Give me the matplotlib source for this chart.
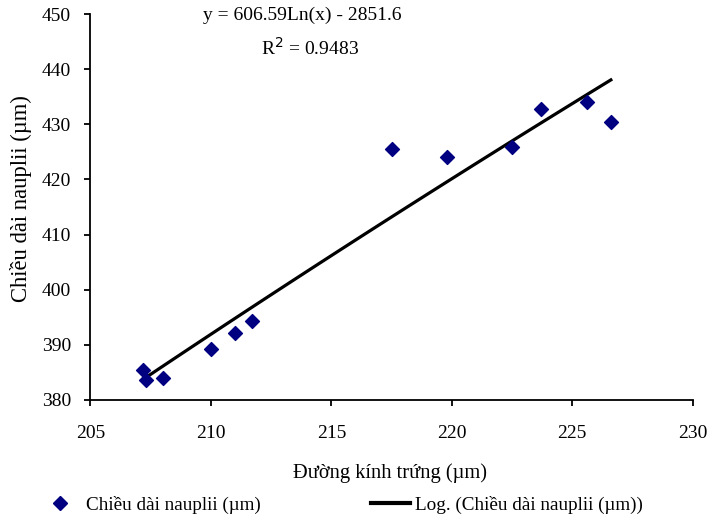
import numpy as np
import matplotlib
matplotlib.use("Agg")
import matplotlib.pyplot as plt
from matplotlib.lines import Line2D

plt.rcParams['font.family'] = ['Liberation Serif', 'DejaVu Serif']
plt.rcParams['font.size'] = 14

# egg diameter (um) vs nauplius length (um)
duong_kinh = [207.2, 207.3, 208.0, 210.0, 211.0, 211.7,
              217.5, 219.8, 222.5, 223.7, 225.6, 226.6]
chieu_dai = [385.4, 383.6, 384.0, 389.3, 392.1, 394.3,
             425.5, 424.1, 425.8, 432.8, 434.1, 430.4]

# log trendline as printed on the chart
coef_a = 606.59
coef_b = -2851.6
r2 = 0.9483

x_ticks = [205, 210, 215, 220, 225, 230]
y_ticks = [380, 390, 400, 410, 420, 430, 440, 450]

fig = plt.figure(figsize=(7.12, 5.2), dpi=100)
ax = fig.add_axes([0.127, 0.231, 0.846, 0.742])

ax.scatter(duong_kinh, chieu_dai, marker='D', s=50, color='#000080', zorder=3)

xt = np.linspace(min(duong_kinh), max(duong_kinh), 100)
ax.plot(xt, coef_a * np.log(xt) + coef_b, color='black', lw=2.3, zorder=2)

ax.set_xlim(205, 230)
ax.set_ylim(380, 450)
ax.set_xticks(x_ticks)
ax.set_yticks(y_ticks)
ax.spines['top'].set_visible(False)
ax.spines['right'].set_visible(False)
ax.spines['left'].set_linewidth(1.3)
ax.spines['bottom'].set_linewidth(1.3)
ax.tick_params(direction='out', length=4, width=1.3)
ax.tick_params(axis='x', pad=14)
ax.tick_params(axis='y', pad=10)

ax.set_xlabel('Đường kính trứng (µm)', fontsize=14.8, va='center')
ax.xaxis.set_label_coords(0.498, -0.19)
ax.set_ylabel('Chiều dài nauplii (µm)', fontsize=16.3, va='center')
ax.yaxis.set_label_coords(-0.115, 0.523)

fig.text(0.425, 0.971, f'y = {coef_a}Ln(x) - {abs(coef_b)}', ha='center', va='center')
fig.text(0.435, 0.908, f'R$^2$ = {r2}', ha='center', va='center')

leg_kw = dict(frameon=False, borderpad=0, borderaxespad=0, handlelength=2.06,
              fontsize=13.8, loc='center left')
fig.legend([Line2D([], [], marker='D', color='#000080', ls='none', markersize=7)],
           ['Chiều dài nauplii (µm)'], bbox_to_anchor=(0.057, 0.029),
           handletextpad=0.33, **leg_kw)
fig.legend([Line2D([], [], color='black', lw=3)],
           ['Log. (Chiều dài nauplii (µm))'], bbox_to_anchor=(0.521, 0.029),
           handletextpad=0.26, **leg_kw)

fig.savefig('out.png', dpi=100)
